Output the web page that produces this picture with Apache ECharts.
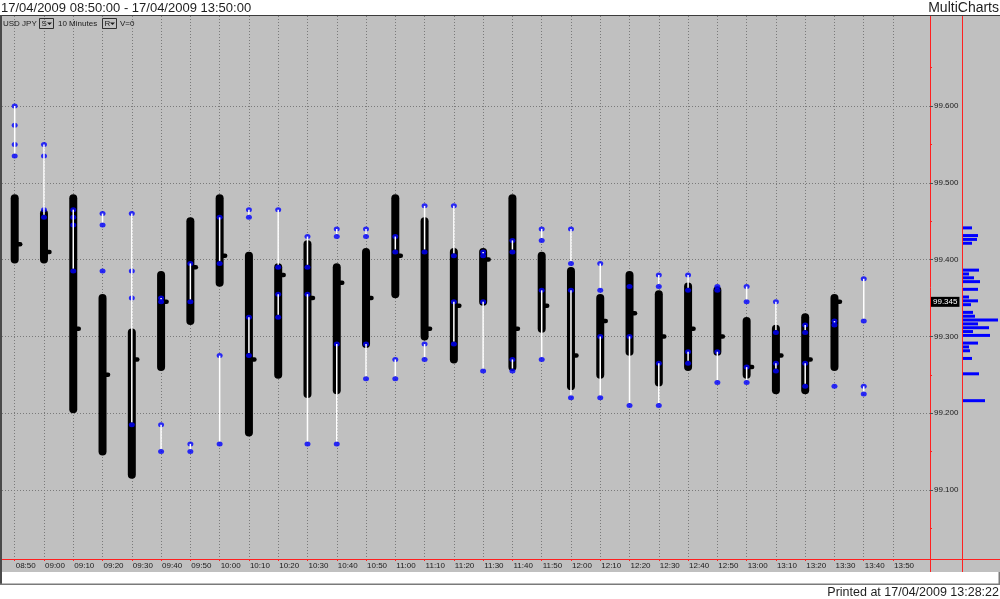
<!DOCTYPE html>
<html><head><meta charset="utf-8">
<script src="https://cdn.jsdelivr.net/npm/echarts@6/dist/echarts.min.js"></script>
<style>html,body{margin:0;padding:0;background:#fff;overflow:hidden}#c{width:1000px;height:599px}</style>
</head><body><div id="c"></div>
<script>
// ---- data ----
const times = ['08:50','09:00','09:10','09:20','09:30','09:40','09:50','10:00','10:10','10:20','10:30','10:40','10:50','11:00','11:10','11:20','11:30','11:40','11:50','12:00','12:10','12:20','12:30','12:40','12:50','13:00','13:10','13:20','13:30','13:40','13:50'];
const highs  = [99.480,99.460,99.480,99.350,99.305,99.380,99.450,99.480,99.405,99.390,99.420,99.390,99.410,99.480,99.450,99.410,99.410,99.480,99.405,99.385,99.350,99.380,99.355,99.365,99.360,99.320,99.310,99.325,99.350,null];
const lows   = [99.400,99.400,99.205,99.150,99.120,99.260,99.320,99.370,99.175,99.250,99.225,99.230,99.290,99.355,99.300,99.270,99.345,99.260,99.310,99.235,99.250,99.280,99.240,99.260,99.280,99.250,99.230,99.230,99.260,null];
const closes = [99.420,99.410,99.310,99.250,99.270,99.345,99.390,99.405,99.270,99.380,99.350,99.370,99.350,99.405,99.310,99.340,99.400,99.310,99.340,99.275,99.320,99.330,99.300,99.310,99.300,99.260,99.275,99.270,99.345,null];
const dotsByBar = [
  [99.600,99.575,99.550,99.535],[99.550,99.535,99.465,99.455],[99.465,99.455,99.445,99.385],[99.460,99.445,99.385],
  [99.460,99.385,99.350,99.185],[99.350,99.345,99.185,99.150],[99.395,99.345,99.160,99.150],[99.455,99.395,99.275,99.160],
  [99.465,99.455,99.325,99.275],[99.465,99.390,99.355,99.325],[99.430,99.390,99.355,99.160],[99.440,99.430,99.290,99.160],
  [99.440,99.430,99.290,99.245],[99.430,99.410,99.270,99.245],[99.470,99.410,99.290,99.270],[99.470,99.405,99.345,99.290],
  [99.410,99.405,99.345,99.255],[99.425,99.410,99.270,99.255],[99.440,99.425,99.360,99.270],[99.440,99.395,99.360,99.220],
  [99.395,99.360,99.300,99.220],[99.365,99.300,99.210],[99.380,99.365,99.265,99.210],[99.380,99.360,99.280,99.265],
  [99.365,99.360,99.280,99.240],[99.365,99.345,99.260,99.240],[99.345,99.305,99.265,99.255],[99.315,99.305,99.265,99.235],
  [99.320,99.315,99.235],[99.375,99.320,99.235,99.225]
];
const wicksByBar = [
  [[99.600,99.535]],[[99.550,99.455]],[[99.465,99.385]],[[99.460,99.445]],
  [[99.460,99.185]],[[99.350,99.345],[99.185,99.150]],[[99.395,99.345],[99.160,99.150]],[[99.455,99.395],[99.275,99.160]],
  [[99.465,99.455],[99.325,99.275]],[[99.465,99.390],[99.355,99.325]],[[99.430,99.390],[99.355,99.160]],[[99.440,99.430],[99.290,99.160]],
  [[99.440,99.430],[99.290,99.245]],[[99.430,99.410],[99.270,99.245]],[[99.470,99.410],[99.290,99.270]],[[99.470,99.405],[99.345,99.290]],
  [[99.410,99.405],[99.345,99.255]],[[99.425,99.410],[99.270,99.255]],[[99.440,99.425],[99.360,99.270]],[[99.440,99.395],[99.360,99.220]],
  [[99.395,99.360],[99.300,99.220]],[[99.300,99.210]],[[99.380,99.365],[99.265,99.210]],[[99.380,99.360],[99.280,99.265]],
  [[99.280,99.240]],[[99.365,99.345],[99.260,99.240]],[[99.345,99.305],[99.265,99.255]],[[99.315,99.305],[99.265,99.235]],
  [[99.320,99.315]],[[99.375,99.320],[99.235,99.225]]
];
const priceTicks = [99.1,99.2,99.3,99.4,99.5,99.6];
const halfTicks = [99.05,99.15,99.25,99.35,99.45,99.55,99.65];
const lastPrice = 99.345;
const profilePrices  = [99.440,99.430,99.425,99.420,99.385,99.380,99.375,99.370,99.360,99.350,99.345,99.340,99.330,99.325,99.320,99.315,99.310,99.305,99.300,99.290,99.285,99.280,99.270,99.250,99.215];
const profileVolumes = [10,16,15,10,17,7,12,18,16,7,16,9,11,13,36,16,27,11,28,16,7,8,10,17,23];

// ---- build series data ----
const tickIdx = times.map((t, i) => i);
const barData = [];
highs.forEach((h, i) => { if (h != null) barData.push([i, h, lows[i], closes[i]]); });
const dotData = [];
dotsByBar.forEach((arr, i) => arr.forEach(p => dotData.push([i, p])));
const wickData = [];
wicksByBar.forEach((arr, i) => arr.forEach(w => wickData.push([i, w[0], w[1]])));
const profileData = profilePrices.map((p, i) => [profileVolumes[i], p]);

const YMIN = 99.01016, YMAX = 99.71719;
const XMIN = -0.4338, XMAX = 31.263;
const FONT = '"Liberation Sans", Arial, sans-serif';
const GRID_LINE = { show: true, lineStyle: { color: '#7a7a7a', width: 1, type: [1, 2] } };
const RED_LINE = { show: true, onZero: false, lineStyle: { color: '#ff2020', width: 1 } };
const NO_LINE = { show: false, onZero: false };

const chart = echarts.init(document.getElementById('c'), null, { renderer: 'canvas' });
chart.setOption({
  animation: false,
  backgroundColor: 'transparent',
  grid: [
    { left: 2, top: 16, width: 928, height: 543, outerBoundsMode: 'none', containLabel: false },
    { left: 962, top: 16, width: 37, height: 543, outerBoundsMode: 'none', containLabel: false }
  ],
  xAxis: [
    { gridIndex: 0, type: 'value', min: XMIN, max: XMAX,
      axisLine: RED_LINE,
      axisTick: { show: true, length: 2, customValues: tickIdx, lineStyle: { color: '#ff2020' } },
      axisLabel: { customValues: tickIdx, formatter: v => times[Math.round(v)] || '', align: 'left', padding: [0, 0, 0, 1],
                   margin: 3, fontSize: 8, fontFamily: FONT, color: '#1a1a1a' },
      splitLine: GRID_LINE },
    { gridIndex: 1, type: 'value', min: 0, max: 37,
      axisLine: RED_LINE,
      axisTick: { show: false }, axisLabel: { show: false }, splitLine: { show: false } }
  ],
  yAxis: [
    { gridIndex: 0, type: 'value', position: 'right', min: YMIN, max: YMAX,
      axisLine: RED_LINE,
      axisTick: { show: true, length: 3, customValues: priceTicks, lineStyle: { color: '#505050' } },
      axisLabel: { customValues: priceTicks, formatter: v => v.toFixed(3), margin: 4, fontSize: 8, fontFamily: FONT, color: '#1a1a1a' },
      splitLine: GRID_LINE },
    { gridIndex: 0, type: 'value', position: 'right', min: YMIN, max: YMAX,
      axisLine: NO_LINE,
      axisTick: { show: true, length: 2, customValues: halfTicks, lineStyle: { color: '#ff2020' } },
      axisLabel: { show: false }, splitLine: { show: false } },
    { gridIndex: 0, type: 'value', position: 'right', min: YMIN, max: YMAX,
      axisLine: NO_LINE, axisTick: { show: false }, splitLine: { show: false },
      axisLabel: { customValues: [lastPrice], formatter: v => v.toFixed(3), margin: 1, fontSize: 8, fontFamily: FONT,
                   color: '#ffffff', backgroundColor: '#000000', padding: [1, 2, 1, 2], lineHeight: 8 } },
    { gridIndex: 1, type: 'value', position: 'left', min: YMIN, max: YMAX,
      axisLine: RED_LINE,
      axisTick: { show: false }, axisLabel: { show: false }, splitLine: { show: false } }
  ],
  series: [
    { type: 'custom', name: 'range', xAxisIndex: 0, yAxisIndex: 0, z: 2, silent: true,
      encode: { x: 0, y: [1, 2, 3] }, data: barData,
      renderItem: (params, api) => {
        const i = api.value(0);
        const pH = api.coord([i, api.value(1)]);
        const pL = api.coord([i, api.value(2)]);
        const pC = api.coord([i, api.value(3)]);
        return { type: 'group', children: [
          { type: 'line', shape: { x1: pH[0], y1: pH[1], x2: pL[0], y2: pL[1] },
            style: { stroke: '#000', lineWidth: 8, lineCap: 'round' } },
          { type: 'line', shape: { x1: pC[0] + 3, y1: pC[1], x2: pC[0] + 5.5, y2: pC[1] },
            style: { stroke: '#000', lineWidth: 4.5, lineCap: 'round' } }
        ] };
      } },
    { type: 'scatter', name: 'ticks', xAxisIndex: 0, yAxisIndex: 0, z: 3, silent: true,
      symbol: 'circle', symbolSize: [6, 5], itemStyle: { color: '#0000ff' }, data: dotData },
    { type: 'custom', name: 'moves', xAxisIndex: 0, yAxisIndex: 0, z: 4, silent: true,
      encode: { x: 0, y: [1, 2] }, data: wickData,
      renderItem: (params, api) => {
        const i = api.value(0);
        const p1 = api.coord([i, api.value(1)]);
        const p2 = api.coord([i, api.value(2)]);
        const y2 = Math.max(p1[1] + 0.5, p2[1] - 2.5);
        return { type: 'line', shape: { x1: p1[0], y1: p1[1], x2: p2[0], y2: y2 },
                 style: { stroke: '#ffffff', lineWidth: 1.5 } };
      } },
    { type: 'custom', name: 'profile', xAxisIndex: 1, yAxisIndex: 3, z: 3, silent: true,
      encode: { x: 0, y: 1 }, data: profileData,
      renderItem: (params, api) => {
        const p0 = api.coord([0, api.value(1)]);
        const p1 = api.coord([api.value(0), api.value(1)]);
        return { type: 'rect', shape: { x: p0[0] + 1, y: p0[1] - 2.5, width: p1[0] - p0[0] - 1, height: 3 },
                 style: { fill: '#0000ff' } };
      } }
  ],
  graphic: [
    { type: 'rect', z: -100, silent: true, shape: { x: 2, y: 16, width: 998, height: 556 }, style: { fill: '#c0c0c0' } },
    { type: 'rect', z: 50, silent: true, shape: { x: 0, y: 15, width: 1000, height: 1 }, style: { fill: '#3c3c3c' } },
    { type: 'rect', z: 50, silent: true, shape: { x: 0, y: 15, width: 2, height: 570 }, style: { fill: '#4a4a4a' } },
    { type: 'rect', z: 50, silent: true, shape: { x: 0, y: 583.5, width: 1000, height: 1.5 }, style: { fill: '#7a7a7a' } },
    { type: 'rect', z: 50, silent: true, shape: { x: 998.5, y: 572, width: 1.5, height: 13 }, style: { fill: '#7a7a7a' } },
    { type: 'line', z: 50, silent: true, shape: { x1: 930.5, y1: 559, x2: 930.5, y2: 572 }, style: { stroke: '#ff2020', lineWidth: 1 } },
    { type: 'line', z: 50, silent: true, shape: { x1: 962.5, y1: 559, x2: 962.5, y2: 572 }, style: { stroke: '#ff2020', lineWidth: 1 } },
    { type: 'line', z: 50, silent: true, shape: { x1: 930, y1: 559.5, x2: 1000, y2: 559.5 }, style: { stroke: '#ff2020', lineWidth: 1 } },
    { type: 'text', z: 50, silent: true, x: 1, y: 8, style: { text: '17/04/2009 08:50:00 - 17/04/2009 13:50:00', font: '13px ' + FONT, fill: '#1e1e1e', align: 'left', verticalAlign: 'middle' } },
    { type: 'text', z: 50, silent: true, x: 999, y: 8, style: { text: 'MultiCharts', font: '14px ' + FONT, fill: '#1e1e1e', align: 'right', verticalAlign: 'middle' } },
    { type: 'text', z: 50, silent: true, x: 999, y: 592.5, style: { text: 'Printed at 17/04/2009 13:28:22', font: '12.5px ' + FONT, fill: '#1e1e1e', align: 'right', verticalAlign: 'middle' } },
    { type: 'text', z: 50, silent: true, x: 3, y: 23.5, style: { text: 'USD JPY', font: '8px ' + FONT, fill: '#1a1a1a', align: 'left', verticalAlign: 'middle' } },
    { type: 'rect', z: 50, silent: true, shape: { x: 39.5, y: 18.5, width: 14, height: 10 }, style: { fill: 'none', stroke: '#303030', lineWidth: 1 } },
    { type: 'text', z: 50, silent: true, x: 41.5, y: 23.5, style: { text: 'S', font: '8px ' + FONT, fill: '#1a1a1a', align: 'left', verticalAlign: 'middle' } },
    { type: 'polygon', z: 50, silent: true, shape: { points: [[47, 22.5], [52, 22.5], [49.5, 25]] }, style: { fill: '#1a1a1a' } },
    { type: 'text', z: 50, silent: true, x: 58, y: 23.5, style: { text: '10 Minutes', font: '8px ' + FONT, fill: '#1a1a1a', align: 'left', verticalAlign: 'middle' } },
    { type: 'rect', z: 50, silent: true, shape: { x: 102.5, y: 18.5, width: 14, height: 10 }, style: { fill: 'none', stroke: '#303030', lineWidth: 1 } },
    { type: 'text', z: 50, silent: true, x: 104.5, y: 23.5, style: { text: 'R', font: '8px ' + FONT, fill: '#1a1a1a', align: 'left', verticalAlign: 'middle' } },
    { type: 'polygon', z: 50, silent: true, shape: { points: [[110, 22.5], [115, 22.5], [112.5, 25]] }, style: { fill: '#1a1a1a' } },
    { type: 'text', z: 50, silent: true, x: 120, y: 23.5, style: { text: 'V=0', font: '8px ' + FONT, fill: '#1a1a1a', align: 'left', verticalAlign: 'middle' } }
  ]
});
</script>
</body></html>
